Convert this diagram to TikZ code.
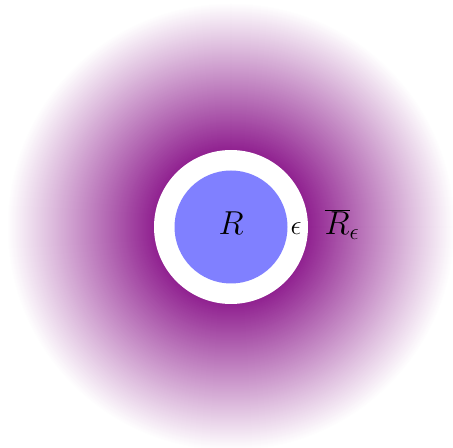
\documentclass[tikz,border=0pt]{standalone}
\usepackage{tikz}
\begin{document}
\begin{tikzpicture}[x=0.75pt,y=-0.75pt,
  lbl/.style={inner sep=0pt,anchor=base,text=black}]
\useasboundingbox (0,0) rectangle (453,448);
\coordinate (c) at (231,227);
% radial fading halo
\foreach \r in {224,223,...,77}{
  \pgfmathsetmacro{\p}{min(100,max(0,100*(224-\r)/(224-55)))}
  \fill[violet!\p!white] (c) circle[radius=\r];
}
\fill[white] (c) circle[radius=77];
\fill[blue!50] (c) circle[radius=56.5];
\node[lbl,font=\fontsize{24}{28}\selectfont] (R) at (231,235) {$R$};
\node[lbl,font=\fontsize{21}{24}\selectfont] (eps) at (296,235) {$\epsilon$};
\node[lbl,font=\fontsize{24}{28}\selectfont] (Rbar) at (342,235) {$\overline{R}_\epsilon$};
\end{tikzpicture}
\end{document}
